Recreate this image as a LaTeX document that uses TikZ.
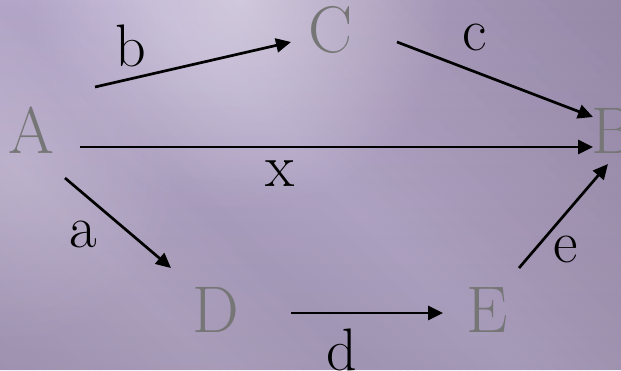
\documentclass[tikz,border=0pt]{standalone}
\usepackage{fontspec}
\usetikzlibrary{arrows.meta,fadings}
\definecolor{letgray}{RGB}{118,118,118}
\definecolor{bgA}{RGB}{176,162,196}
\definecolor{bgB}{RGB}{186,173,205}
\definecolor{bgC}{RGB}{178,165,199}
\definecolor{bgD}{RGB}{184,171,205}
\definecolor{bgE}{RGB}{174,160,192}
\definecolor{bgF}{RGB}{150,137,168}
\tikzfading[name=fadedown, top color=transparent!100, bottom color=transparent!0]
\tikzfading[name=softglow, inner color=transparent!0, outer color=transparent!100]
\begin{document}
\begin{tikzpicture}[x=0.5pt,y=-0.5pt,
  capnode/.style={font=\fontsize{33}{33}\selectfont, text=letgray, inner sep=0pt, anchor=base},
  lbl/.style={font=\fontsize{30}{30}\selectfont, text=black, inner sep=0pt, anchor=base},
  arr/.style={-{Triangle[length=7.5pt,width=7pt]}, line width=1.35pt, draw=black},
  glow/.style={fill=white, path fading=softglow}]
\useasboundingbox (0,0) rectangle (621,370);
\begin{scope}
\clip (0,0) rectangle (621,370);
\foreach \sa/\sb/\ca/\cb in {-370/-150/bgA/bgB, -150/0/bgB/bgC, 0/150/bgC/bgD, 150/300/bgD/bgE, 300/621/bgE/bgF}{
  \foreach \k in {0,...,19}{
    \pgfmathsetmacro\ua{\sa+(\sb-\sa)*\k/20}
    \pgfmathsetmacro\ub{\sa+(\sb-\sa)*(\k+1)/20+1}
    \pgfmathsetmacro\p{(\k+0.5)*5}
    \fill[\cb!\p!\ca] (\ua,0) -- (\ub,0) -- (\ub+370,370) -- (\ua+370,370) -- cycle;
  }
}
\fill[black, fill opacity=0.1, path fading=fadedown] (0,0) rectangle (621,370);
\fill[glow, fill opacity=0.4] (240,0) circle [radius=210];
\fill[glow, fill opacity=0.15] (10,175) circle [radius=170];

\node[capnode] (A) at (31.5,153) {A};
\node[capnode] (C) at (331,52) {C};
\node[capnode] (B) at (613,153) {B};
\node[capnode] (D) at (216,332) {D};
\node[capnode] (E) at (487,332) {E};

\node[lbl] (lb) at (131,66) {b};
\node[lbl] (lc) at (475,50) {c};
\node[lbl] (lx) at (280,186) {x};
\node[lbl] (la) at (83,247) {a};
\node[lbl] (le) at (566,262) {e};
\node[lbl] (ld) at (342,370) {d};

\coordinate (b1) at (95,87);   \coordinate (b2) at (291,42);
\coordinate (c1) at (397,42);  \coordinate (c2) at (593,117);
\coordinate (x1) at (80,147);  \coordinate (x2) at (593,147);
\coordinate (a1) at (65,178);  \coordinate (a2) at (171,268);
\coordinate (d1) at (291,313); \coordinate (d2) at (443,313);
\coordinate (e1) at (519,268); \coordinate (e2) at (608,164);

\draw[arr] (b1) -- (b2);
\draw[arr] (c1) -- (c2);
\draw[arr] (x1) -- (x2);
\draw[arr] (a1) -- (a2);
\draw[arr] (d1) -- (d2);
\draw[arr] (e1) -- (e2);
\end{scope}
\end{tikzpicture}
\end{document}
